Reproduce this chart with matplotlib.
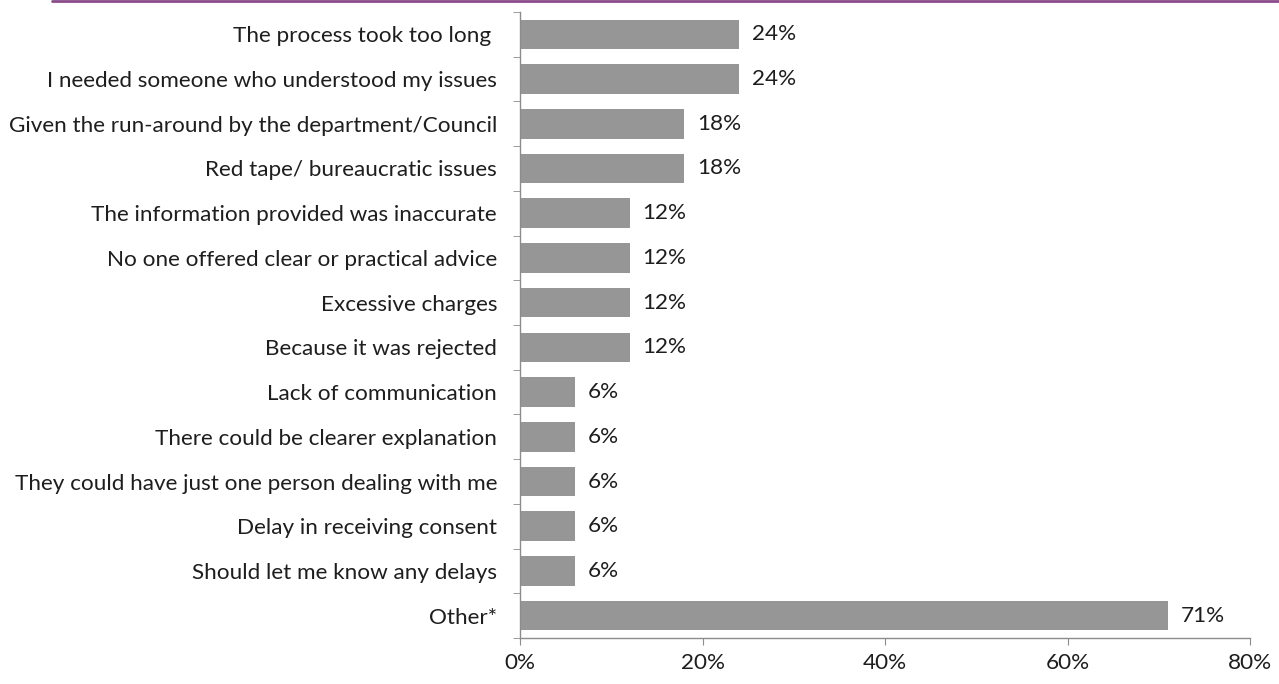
import matplotlib

matplotlib.use("Agg")
import matplotlib.pyplot as plt
import numpy as np
from matplotlib.lines import Line2D

plt.rcParams["font.family"] = ["Lato", "DejaVu Sans"]

reasons = [
    "The process took too long ",
    "I needed someone who understood my issues",
    "Given the run-around by the department/Council",
    "Red tape/ bureaucratic issues",
    "The information provided was inaccurate",
    "No one offered clear or practical advice",
    "Excessive charges",
    "Because it was rejected",
    "Lack of communication",
    "There could be clearer explanation",
    "They could have just one person dealing with me",
    "Delay in receiving consent",
    "Should let me know any delays",
    "Other*",
]
shares = [24, 24, 18, 18, 12, 12, 12, 12, 6, 6, 6, 6, 6, 71]
x_ticks = [0, 20, 40, 60, 80]

BAR = "#969696"
AXIS = "#8c8c8c"
TXT = "#1e1e1e"
FS = 16.2

fig = plt.figure(figsize=(12.79, 6.84), dpi=100)
ax = fig.add_axes([520 / 1279, 46 / 684, 730 / 1279, 626 / 684])

y = np.arange(len(reasons))
ax.barh(y, shares, height=0.66, color=BAR)
for yi, v in zip(y, shares):
    ax.text(v + 1.4, yi, f"{v}%", va="center", ha="left", fontsize=FS, color=TXT)

ax.set_ylim(len(reasons) - 0.5, -0.5)
ax.set_xlim(0, 80)
ax.set_yticks(y)
ax.set_yticklabels(reasons, fontsize=FS, color=TXT)
ax.tick_params(axis="y", which="major", length=0, pad=16.5)
# tick marks sit between categories
ax.set_yticks(np.arange(len(reasons) + 1) - 0.5, minor=True)
ax.tick_params(axis="y", which="minor", length=5, color=AXIS, direction="out")

ax.set_xticks(x_ticks)
ax.set_xticklabels([f"{t}%" for t in x_ticks], fontsize=FS, color=TXT)
ax.tick_params(axis="x", length=5, color=AXIS, pad=6)

for side in ("top", "right"):
    ax.spines[side].set_visible(False)
for side in ("left", "bottom"):
    ax.spines[side].set_color(AXIS)
    ax.spines[side].set_linewidth(1.0)
ax.grid(False)

# thin purple rule along the top edge
fig.add_artist(Line2D([52 / 1279, 1.0], [0.999, 0.999], transform=fig.transFigure,
                      color="#8b4a8b", lw=2.0, solid_capstyle="round"))

fig.savefig("out.png", dpi=100)
